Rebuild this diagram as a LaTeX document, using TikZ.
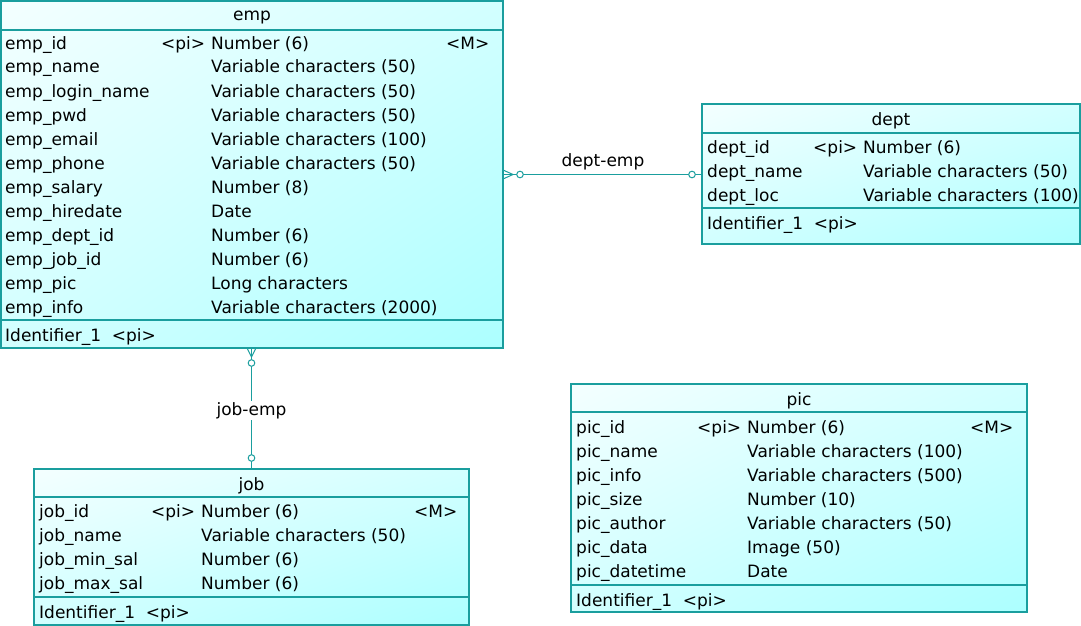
\documentclass[tikz,border=0pt]{standalone}
\usepackage{fontspec}
\setmainfont{DejaVu Sans}
\usetikzlibrary{calc,shadings}
\definecolor{edge}{HTML}{1A9E9E}
\definecolor{shadeA}{HTML}{F4FFFF}
\definecolor{shadeB}{HTML}{D2FFFF}
\definecolor{shadeC}{HTML}{ACFFFF}
\tikzset{
  entity/.style={draw=edge, line width=1.1pt, inner sep=0pt, outer sep=0pt,
    anchor=north west, upper left=shadeA, upper right=shadeB,
    lower left=shadeB, lower right=shadeC},
  sep/.style={draw=edge, line width=1.1pt},
  txt/.style={inner sep=0pt, anchor=base west, font=\fontsize{17}{19}\selectfont},
  ttl/.style={inner sep=0pt, anchor=base, font=\fontsize{17}{19}\selectfont},
  conn/.style={draw=edge, line width=1pt},
  knob/.style={draw=edge, line width=1pt, fill=white},
  rlabel/.style={fill=white, inner sep=1.5pt, anchor=base, font=\fontsize{17}{19}\selectfont}
}
\begin{document}
\begin{tikzpicture}[x=1pt,y=-1pt]
\useasboundingbox (0,0) rectangle (1081,626);

% ---- emp ----
\node[entity, minimum width=502pt, minimum height=347pt] (emp) at (1,1) {};
\node[ttl] (emp-t) at (252,21) {emp};
\draw[sep] (1,30) -- (503,30);
\draw[sep] (1,320) -- (503,320);
\foreach \n/\k/\t/\m [count=\i from 0] in {
  emp\_id/<pi>/Number (6)/<M>,
  emp\_name//Variable characters (50)/,
  emp\_login\_name//Variable characters (50)/,
  emp\_pwd//Variable characters (50)/,
  emp\_email//Variable characters (100)/,
  emp\_phone//Variable characters (50)/,
  emp\_salary//Number (8)/,
  emp\_hiredate//Date/,
  emp\_dept\_id//Number (6)/,
  emp\_job\_id//Number (6)/,
  emp\_pic//Long characters/,
  emp\_info//Variable characters (2000)/}{
  \pgfmathsetmacro\yy{49+24*\i}
  \node[txt] (emp-n\i) at (5,\yy) {\n};
  \node[txt] (emp-k\i) at (161,\yy) {\k};
  \node[txt] (emp-t\i) at (211,\yy) {\t};
  \node[txt] (emp-m\i) at (446,\yy) {\m};
}
\node[txt] (emp-id) at (5,341) {Identifier\_1\ \ <pi>};

% ---- dept ----
\node[entity, minimum width=378pt, minimum height=140pt] (dept) at (702,104) {};
\node[ttl] (dept-t) at (891,125) {dept};
\draw[sep] (702,133) -- (1080,133);
\draw[sep] (702,208) -- (1080,208);
\foreach \n/\k/\t [count=\i from 0] in {
  dept\_id/<pi>/Number (6),
  dept\_name//Variable characters (50),
  dept\_loc//Variable characters (100)}{
  \pgfmathsetmacro\yy{153+24*\i}
  \node[txt] (dept-n\i) at (707,\yy) {\n};
  \node[txt] (dept-k\i) at (813,\yy) {\k};
  \node[txt] (dept-t\i) at (863,\yy) {\t};
}
\node[txt] (dept-id) at (707,229) {Identifier\_1\ \ <pi>};

% ---- pic ----
\node[entity, minimum width=456pt, minimum height=228pt] (pic) at (571,384) {};
\node[ttl] (pic-t) at (799,405) {pic};
\draw[sep] (571,412) -- (1027,412);
\draw[sep] (571,585) -- (1027,585);
\foreach \n/\k/\t/\m [count=\i from 0] in {
  pic\_id/<pi>/Number (6)/<M>,
  pic\_name//Variable characters (100)/,
  pic\_info//Variable characters (500)/,
  pic\_size//Number (10)/,
  pic\_author//Variable characters (50)/,
  pic\_data//Image (50)/,
  pic\_datetime//Date/}{
  \pgfmathsetmacro\yy{433+24*\i}
  \node[txt] (pic-n\i) at (576,\yy) {\n};
  \node[txt] (pic-k\i) at (697,\yy) {\k};
  \node[txt] (pic-t\i) at (747,\yy) {\t};
  \node[txt] (pic-m\i) at (970,\yy) {\m};
}
\node[txt] (pic-id) at (576,606) {Identifier\_1\ \ <pi>};

% ---- job ----
\node[entity, minimum width=435pt, minimum height=156pt] (job) at (34,469) {};
\node[ttl] (job-t) at (251.5,490) {job};
\draw[sep] (34,497) -- (469,497);
\draw[sep] (34,597) -- (469,597);
\foreach \n/\k/\t/\m [count=\i from 0] in {
  job\_id/<pi>/Number (6)/<M>,
  job\_name//Variable characters (50)/,
  job\_min\_sal//Number (6)/,
  job\_max\_sal//Number (6)/}{
  \pgfmathsetmacro\yy{517+24*\i}
  \node[txt] (job-n\i) at (39,\yy) {\n};
  \node[txt] (job-k\i) at (151,\yy) {\k};
  \node[txt] (job-t\i) at (201,\yy) {\t};
  \node[txt] (job-m\i) at (414,\yy) {\m};
}
\node[txt] (job-id) at (39,618) {Identifier\_1\ \ <pi>};

% ---- relationship dept-emp ----
\coordinate (de-a) at (emp.east);
\coordinate (de-b) at (emp.east -| dept.west);
\draw[conn] (de-a) -- (de-b);
\draw[conn] ($(de-a)+(10,0)$) -- ($(de-a)+(0,-4.5)$)
            ($(de-a)+(10,0)$) -- ($(de-a)+(0,4.5)$);
\draw[knob] ($(de-a)+(17,0)$) circle (3.3);
\draw[knob] ($(de-b)+(-10,0)$) circle (3.3);
\node[rlabel] (de-lbl) at (603,166) {dept-emp};

% ---- relationship job-emp ----
\coordinate (je-a) at (emp.south -| job.north);
\coordinate (je-b) at (job.north);
\draw[conn] (je-a) -- (je-b);
\node[rlabel] (je-lbl) at (251.5,415) {job-emp};
\draw[conn] ($(je-a)+(0,9)$) -- ($(je-a)+(-4.5,0)$)
            ($(je-a)+(0,9)$) -- ($(je-a)+(4.5,0)$);
\draw[knob] ($(je-a)+(0,15)$) circle (3.3);
\draw[knob] ($(je-b)+(0,-11)$) circle (3.3);
\end{tikzpicture}
\end{document}
